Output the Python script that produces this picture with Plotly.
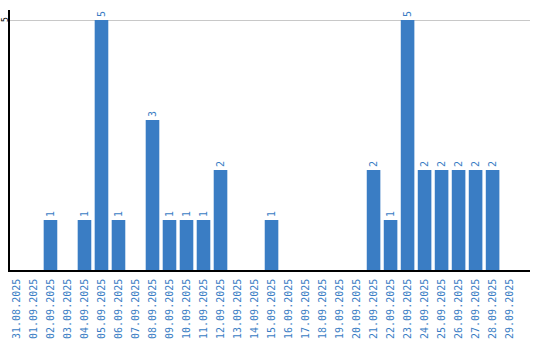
import plotly.graph_objects as go

dates = ["31.08.2025", "01.09.2025", "02.09.2025", "03.09.2025", "04.09.2025",
         "05.09.2025", "06.09.2025", "07.09.2025", "08.09.2025", "09.09.2025",
         "10.09.2025", "11.09.2025", "12.09.2025", "13.09.2025", "14.09.2025",
         "15.09.2025", "16.09.2025", "17.09.2025", "18.09.2025", "19.09.2025",
         "20.09.2025", "21.09.2025", "22.09.2025", "23.09.2025", "24.09.2025",
         "25.09.2025", "26.09.2025", "27.09.2025", "28.09.2025", "29.09.2025"]
counts = [0, 0, 1, 0, 1, 5, 1, 0, 3, 1, 1, 1, 2, 0, 0, 1, 0, 0, 0, 0,
          0, 2, 1, 5, 2, 2, 2, 2, 2, 0]
y_ticks = [5]

blue = "#3a7dc4"
labels = [str(v) if v > 0 else "" for v in counts]

fig = go.Figure(go.Bar(
    x=list(range(len(dates))), y=counts, marker_color=blue, marker_line_width=0,
    text=labels, textposition="outside", textangle=-90,
    textfont=dict(family="DejaVu Sans Mono", size=10, color=blue),
    cliponaxis=False,
))

fig.update_layout(
    width=540, height=340, margin=dict(l=10, r=10, t=10, b=70),
    plot_bgcolor="white", paper_bgcolor="white", bargap=0.2,
    showlegend=False,
    uniformtext=dict(minsize=10, mode="show"),
)
fig.update_xaxes(
    range=[-0.38, 30.2], tickmode="array", tickvals=list(range(len(dates))),
    ticktext=dates, tickangle=-90, showgrid=False, showline=True,
    linecolor="black", linewidth=1.5, ticks="", automargin=False,
    ticklabelstandoff=3,
    tickfont=dict(family="DejaVu Sans Mono", size=10, color=blue),
)
fig.update_yaxes(
    range=[0, 5.2], tickvals=y_ticks, showticklabels=False,
    showgrid=True, gridcolor="#c8c8c8", gridwidth=1, showline=True,
    linecolor="black", linewidth=1.5, zeroline=False, ticks="", automargin=False,
)
for t in y_ticks:
    fig.add_annotation(
        x=0, xref="paper", y=t, yref="y", text=str(t), showarrow=False,
        textangle=-90, xanchor="center", yanchor="middle", xshift=-5,
        font=dict(family="DejaVu Sans Mono", size=8, color="black"),
    )

fig.write_html("out.html")
